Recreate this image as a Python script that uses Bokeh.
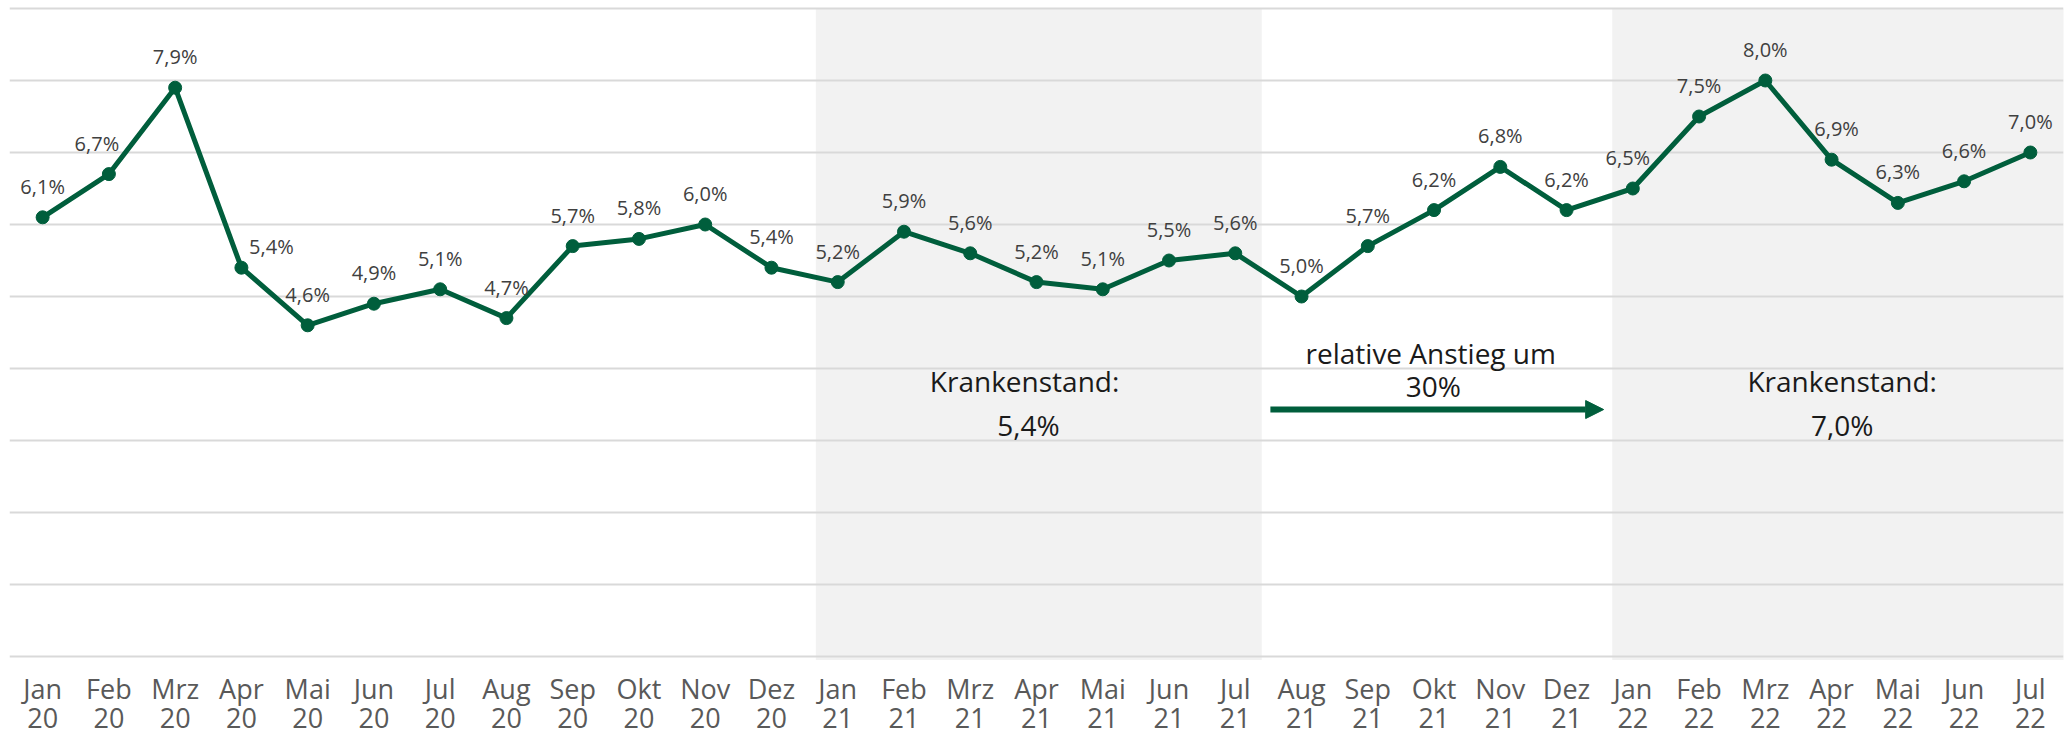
from bokeh.plotting import figure
from bokeh.models import ColumnDataSource, FixedTicker, Arrow, NormalHead
from bokeh.core.properties import value
from bokeh.embed import file_html
from bokeh.resources import INLINE

# ---- data ----
months = ["Jan", "Feb", "Mrz", "Apr", "Mai", "Jun", "Jul", "Aug", "Sep", "Okt", "Nov", "Dez",
          "Jan", "Feb", "Mrz", "Apr", "Mai", "Jun", "Jul", "Aug", "Sep", "Okt", "Nov", "Dez",
          "Jan", "Feb", "Mrz", "Apr", "Mai", "Jun", "Jul"]
years = ["20"] * 12 + ["21"] * 12 + ["22"] * 7
krankenstand = [6.1, 6.7, 7.9, 5.4, 4.6, 4.9, 5.1, 4.7, 5.7, 5.8, 6.0, 5.4,
                5.2, 5.9, 5.6, 5.2, 5.1, 5.5, 5.6, 5.0, 5.7, 6.2, 6.8, 6.2,
                6.5, 7.5, 8.0, 6.9, 6.3, 6.6, 7.0]
period_labels = ["Krankenstand:", "Krankenstand:"]
period_values = ["5,4%", "7,0%"]
rise_label = ["relative Anstieg um", "30%"]

# label nudges (screen px), separate from the data
label_dx = [0] * 31
label_dx[1] = -12
label_dx[3] = 30
label_dx[24] = -5
label_dx[27] = 5
label_dy = [-31] * 31
label_dy[3] = -21

GREEN = "#005E3C"
FONT = "Open Sans"

n = len(krankenstand)
xs = list(range(n))
labels = [f"{v:.1f}".replace(".", ",") + "%" for v in krankenstand]

src = ColumnDataSource(dict(x=xs, y=krankenstand, lab=labels, dx=label_dx, dy=label_dy))

W, H = 2067, 739
PX_PER_UNIT = 72.0
y_top = 9 + 8 / PX_PER_UNIT
y_bottom = y_top - H / PX_PER_UNIT

p = figure(width=W, height=H, x_range=(-0.5, 30.5), y_range=(y_bottom, y_top),
           output_backend="svg", toolbar_location=None,
           min_border_left=9, min_border_right=4, min_border_top=0, min_border_bottom=0)
p.outline_line_color = None
p.background_fill_color = "white"
p.border_fill_color = "white"

# shaded comparison periods (drawn beneath the grid)
p.quad(left=[11.67, 23.69], right=[18.40, 30.53], bottom=[-0.05, -0.05], top=[9.0, 9.0],
       fill_color="#F2F2F2", line_color=None, level="image")

# grid
p.xgrid.grid_line_color = None
p.ygrid.ticker = FixedTicker(ticks=list(range(0, 10)))
p.ygrid.grid_line_color = "#D9D9D9"
p.ygrid.grid_line_width = 2

# axes
p.yaxis.visible = False
ax = p.xaxis[0]
ax.fixed_location = 0
ax.ticker = FixedTicker(ticks=xs)
ax.major_label_overrides = {i: f"{months[i]}\n{years[i]}" for i in xs}
ax.axis_line_color = None
ax.major_tick_line_color = None
ax.minor_tick_line_color = None
ax.major_tick_in = 0
ax.major_tick_out = 0
ax.minor_tick_out = 0
ax.major_label_text_font = FONT
ax.major_label_text_font_size = "27px"
ax.major_label_text_color = "#595959"
ax.major_label_standoff = 13
ax.major_label_text_line_height = 0.79

# series
p.line("x", "y", source=src, line_color=GREEN, line_width=5)
p.scatter("x", "y", source=src, size=13, fill_color=GREEN, line_color=GREEN)
p.text("x", "y", text="lab", source=src, x_offset="dx", y_offset="dy",
       text_align="center", text_baseline="middle",
       text_font=value(FONT), text_font_size="20px", text_color="#404040")

# annotations
ann = ColumnDataSource(dict(
    x=[14.82, 14.88, 27.16, 27.16, 20.95, 20.99],
    y=[3.83, 3.21, 3.83, 3.21, 4.22, 3.76],
    t=[period_labels[0], period_values[0], period_labels[1], period_values[1],
       rise_label[0], rise_label[1]],
))
p.text("x", "y", text="t", source=ann, text_align="center", text_baseline="middle",
       text_font=value(FONT), text_font_size="28px", text_color="#1A1A1A")

p.add_layout(Arrow(x_start=18.53, y_start=3.43, x_end=23.56, y_end=3.43,
                   line_color=GREEN, line_width=6,
                   end=NormalHead(size=18, fill_color=GREEN, line_color=GREEN)))

open("out.html", "w").write(file_html(p, INLINE))
